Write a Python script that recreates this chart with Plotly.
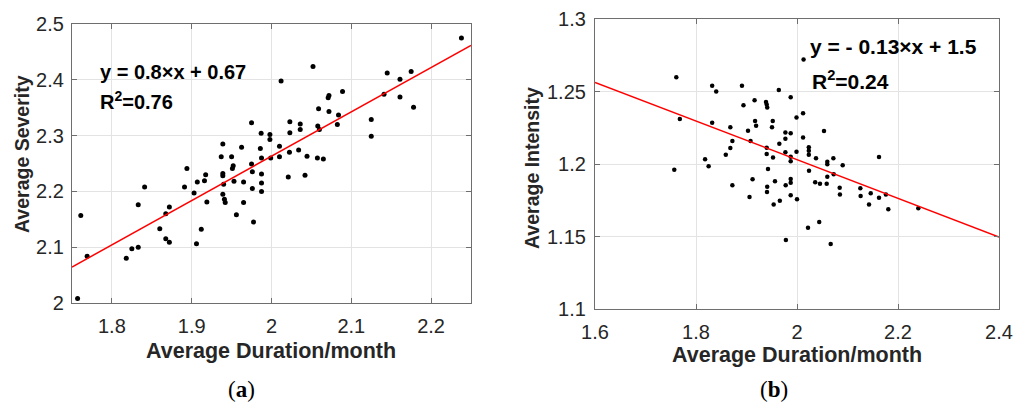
import plotly.graph_objects as go

W, H = 1027, 405

# ---------------- data (a) ----------------
dur_a = [1.975, 1.987, 1.998, 1.998, 1.939, 1.9625, 1.986, 1.937, 1.950, 1.9875,
         1.999, 2.010, 1.952, 1.975, 1.894, 2.010, 2.238, 2.052, 2.012, 2.145,
         2.175, 2.161, 2.089, 2.072, 2.071, 2.141, 2.161, 2.178, 2.059, 2.072,
         2.084, 2.023, 2.036, 2.0825, 2.125, 2.058, 2.060, 2.036, 2.023, 2.125,
         2.0225, 2.034, 2.0445, 2.0575, 2.065, 2.021, 2.042, 1.761, 1.757, 1.769,
         1.818, 1.825, 1.833, 1.833, 1.841, 1.860, 1.8675, 1.872, 1.8675, 1.872,
         1.891, 1.903, 1.907, 1.9175, 1.916, 1.919, 1.912, 1.906, 1.939, 1.939,
         1.940, 1.939, 1.941, 1.942, 1.951, 1.953, 1.956, 1.965, 1.965, 1.976,
         1.976, 1.9775, 1.9875, 1.9875, 1.9875]
sev_a = [2.323, 2.304, 2.302, 2.293, 2.285, 2.279, 2.277, 2.262, 2.262, 2.260,
         2.260, 2.281, 2.246, 2.249, 2.241, 2.262, 2.475, 2.424, 2.398, 2.412,
         2.415, 2.401, 2.379, 2.372, 2.368, 2.374, 2.369, 2.351, 2.348, 2.343,
         2.337, 2.325, 2.321, 2.320, 2.329, 2.317, 2.311, 2.311, 2.305, 2.299,
         2.270, 2.274, 2.263, 2.260, 2.258, 2.226, 2.229, 2.157, 2.008, 2.084,
         2.080, 2.097, 2.100, 2.176, 2.208, 2.133, 2.115, 2.109, 2.160, 2.172,
         2.208, 2.197, 2.217, 2.230, 2.219, 2.181, 2.132, 2.106, 2.232, 2.228,
         2.213, 2.195, 2.186, 2.180, 2.241, 2.218, 2.158, 2.217, 2.180, 2.235,
         2.205, 2.145, 2.231, 2.215, 2.200]
slope_a, intercept_a = 0.794, 0.675
range_a_x = [1.75, 2.25]
range_a_y = [2.0, 2.5]
xticks_a = [1.8, 1.9, 2.0, 2.1, 2.2]
xlabels_a = ["1.8", "1.9", "2", "2.1", "2.2"]
yticks_a = [2.0, 2.1, 2.2, 2.3, 2.4, 2.5]
ylabels_a = ["2", "2.1", "2.2", "2.3", "2.4", "2.5"]

# ---------------- data (b) ----------------
dur_b = [1.761, 1.768, 1.832, 1.840, 1.891, 1.964, 2.013, 1.9875, 1.916, 1.894,
         1.9386, 1.940, 1.941, 2.012, 1.999, 1.832, 1.917, 1.919, 1.952, 1.9505,
         1.868, 1.903, 1.977, 1.9875, 1.977, 2.012, 1.872, 1.908, 1.965, 1.868,
         1.940, 2.0234, 2.0234, 2.0234, 1.977, 1.999, 1.859, 1.940, 1.9525, 1.9875,
         1.9875, 1.818, 1.825, 1.757, 1.9426, 2.0535, 2.0376, 2.060, 2.060, 2.072,
         2.0905, 2.1624, 2.0238, 2.060, 2.0727, 2.036, 2.0455, 2.0588, 2.0845, 2.085,
         2.1254, 2.126, 2.146, 2.1624, 2.176, 2.1426, 2.1808, 2.2402, 2.0218, 2.044,
         2.0667, 1.872, 1.912, 1.906, 1.941, 1.9406, 1.9564, 1.9538, 1.966, 1.9776,
         1.9875, 1.9875, 1.9875, 2.0, 1.978]
int_b = [1.2598, 1.231, 1.254, 1.250, 1.254, 1.251, 1.272, 1.246, 1.244, 1.2405,
         1.2428, 1.241, 1.239, 1.235, 1.232, 1.2285, 1.2297, 1.2264, 1.2297, 1.2253,
         1.2253, 1.223, 1.2218, 1.2212, 1.2175, 1.2182, 1.2159, 1.2159, 1.214, 1.211,
         1.2112, 1.2115, 1.2092, 1.2063, 1.2081, 1.2085, 1.2064, 1.2069, 1.2044, 1.205,
         1.2019, 1.2032, 1.1984, 1.196, 1.1966, 1.2228, 1.2039, 1.2016, 1.1998, 1.2039,
         1.1992, 1.2048, 1.1954, 1.1912, 1.1929, 1.1874, 1.1864, 1.1864, 1.1837, 1.179,
         1.1832, 1.178, 1.1798, 1.1768, 1.179, 1.172, 1.1688, 1.1695, 1.156, 1.160,
         1.1448, 1.1853, 1.1894, 1.1772, 1.1843, 1.1807, 1.1881, 1.172, 1.1747, 1.1853,
         1.1897, 1.1871, 1.1784, 1.1757, 1.1476]
slope_b, intercept_b = -0.1333, 1.4696
range_b_x = [1.6, 2.4]
range_b_y = [1.1, 1.3]
xticks_b = [1.6, 1.8, 2.0, 2.2, 2.4]
xlabels_b = ["1.6", "1.8", "2", "2.2", "2.4"]
yticks_b = [1.1, 1.15, 1.2, 1.25, 1.3]
ylabels_b = ["1.1", "1.15", "1.2", "1.25", "1.3"]

eq_a = ["y = 0.8×x + 0.67", "R<sup>2</sup>=0.76"]
eq_b = ["y = - 0.13×x + 1.5", "R<sup>2</sup>=0.24"]
xtitle = "Average Duration/month"
ytitle_a = "Average Severity"
ytitle_b = "Average Intensity"
panel_labels = ["(<b>a</b>)", "(<b>b</b>)"]

# ---------------- helpers ----------------
def px(x):
    return x / W

def py(y):
    return 1 - y / H

FONT = "Arial, Liberation Sans, sans-serif"
TXT = "#262626"
FRAME = "#6e6e6e"
GRID = "#e3e3e3"

fig = go.Figure()

fig.add_trace(go.Scatter(x=dur_a, y=sev_a, mode="markers",
                         marker=dict(color="black", size=5), xaxis="x", yaxis="y",
                         showlegend=False))
fig.add_trace(go.Scatter(x=range_a_x, y=[slope_a * v + intercept_a for v in range_a_x],
                         mode="lines", line=dict(color="#ff0000", width=1.5),
                         xaxis="x", yaxis="y", showlegend=False))
fig.add_trace(go.Scatter(x=dur_b, y=int_b, mode="markers",
                         marker=dict(color="black", size=4.5), xaxis="x2", yaxis="y2",
                         showlegend=False))
fig.add_trace(go.Scatter(x=range_b_x, y=[slope_b * v + intercept_b for v in range_b_x],
                         mode="lines", line=dict(color="#ff0000", width=1.5),
                         xaxis="x2", yaxis="y2", showlegend=False))

def axis(domain, rng, tv, tt, anchor, standoff):
    return dict(domain=domain, range=rng, tickvals=tv, ticktext=tt, anchor=anchor,
                automargin=False,
                showgrid=True, gridcolor=GRID, gridwidth=1, zeroline=False,
                showline=True, linecolor=FRAME, linewidth=1.2, mirror="ticks",
                ticks="inside", ticklen=5, tickcolor=FRAME, tickwidth=1,
                tickfont=dict(family=FONT, size=20, color=TXT),
                ticklabelstandoff=standoff, fixedrange=True)

fig.update_layout(
    width=W, height=H, margin=dict(l=0, r=0, t=0, b=0, pad=0, autoexpand=False),
    paper_bgcolor="white", plot_bgcolor="white",
    xaxis=axis([px(72), px(471)], range_a_x, xticks_a, xlabels_a, "y", 5),
    yaxis=axis([py(303), py(24)], range_a_y, yticks_a, ylabels_a, "x", 3),
    xaxis2=axis([px(595), px(999)], range_b_x, xticks_b, xlabels_b, "y2", 5),
    yaxis2=axis([py(309), py(19)], range_b_y, yticks_b, ylabels_b, "x2", 4),
)

ann = []
def text(x, y, s, size, bold=True, angle=0, xanchor="center", family=FONT, color=TXT):
    ann.append(dict(x=px(x), y=py(y), xref="paper", yref="paper", text=(f"<b>{s}</b>" if bold else s),
                    showarrow=False, xanchor=xanchor, yanchor="middle", textangle=angle,
                    font=dict(family=family, size=size, color=color)))

text(98, 72, eq_a[0], 20, xanchor="left", color="black")
text(98, 101, eq_a[1], 20, xanchor="left", color="black")
text(808, 46, eq_b[0], 21, xanchor="left", color="black")
text(810, 80, eq_b[1], 21, xanchor="left", color="black")

text(271, 351, xtitle, 21.5)
text(797, 355, xtitle, 21.5)
text(22, 154, ytitle_a, 19.5, angle=-90)
text(532, 168, ytitle_b, 19.5, angle=-90)

text(241, 389, panel_labels[0], 23, bold=False, family="Liberation Serif, Times New Roman, serif", color="black")
text(774, 389, panel_labels[1], 23, bold=False, family="Liberation Serif, Times New Roman, serif", color="black")

fig.update_layout(annotations=ann)
fig.write_html("out.html", config={"displayModeBar": False},
               post_script="document.body.style.margin='0';document.body.style.overflow='hidden';")
